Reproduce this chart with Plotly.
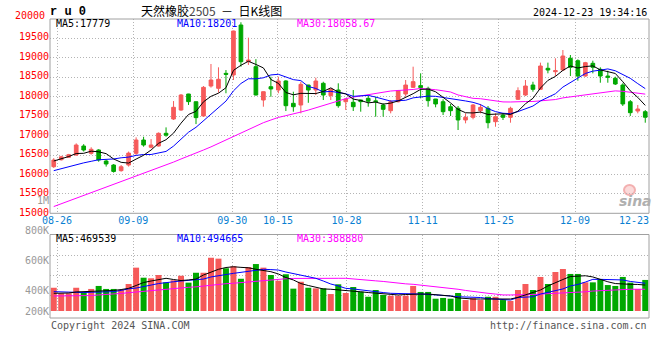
import plotly.graph_objects as go

# ---------------- data ----------------
IDX = list(range(80))
OPEN = [16162,16340,16405,16462,16692,16505,16590,16308,16205,16060,
        16205,16505,16846,16660,16692,17018,17385,17615,18026,17828,
        17462,18231,18172,18555,18513,19795,18855,18726,17872,18213,
        18128,18360,17787,17744,18256,18128,18300,17985,18128,17828,
        17813,17872,17915,17850,17744,17598,17828,18026,18197,18240,
        18170,17897,17828,17700,17659,17360,17428,17598,17659,17316,
        17487,17428,17890,18000,18256,18146,18685,18598,18641,18941,
        18880,18487,18813,18659,18487,18428,18256,17828,17590,17572]
HIGH = [16380,16440,16490,16760,16740,16660,16610,16350,16230,16205,
        16550,16915,16930,16870,17040,17170,17845,18025,18030,17830,
        18230,18795,18710,18640,19650,19865,19470,18920,18090,18470,
        18470,18380,18085,18340,18260,18444,18340,18160,18300,17910,
        18128,17880,17985,17957,17787,17872,18130,18385,18726,18556,
        18213,17900,17890,17770,17718,17530,17770,17770,17718,17530,
        17530,17700,18197,18385,18340,18830,18830,18941,19154,19026,
        18915,18850,18880,18710,18623,18470,18300,17872,17744,17615]
LOW = [16130,16320,16390,16440,16550,16470,16290,16165,16010,16035,
       16165,16462,16675,16635,16680,16930,17360,17595,17745,17255,
       17445,18190,18060,18045,18385,18725,18770,17990,17700,17955,
       18045,17590,17572,17530,17800,18000,17872,17872,17674,17615,
       17590,17572,17700,17444,17444,17530,17810,17957,18180,17915,
       17700,17685,17487,17462,17103,17274,17377,17530,17146,17187,
       17359,17290,17872,17974,18085,18128,18556,18487,18623,18487,
       18367,18470,18556,18315,18315,18256,17718,17462,17530,17290]
CLOSE = [16333,16415,16470,16718,16590,16608,16333,16231,16040,16160,
         16510,16846,16718,16718,17018,16970,17685,18000,17830,17420,
         18197,18385,18403,18530,19641,18854,18897,18000,18085,18155,
         18360,17726,17700,18274,18128,18359,18000,18154,17726,17897,
         17700,17830,17840,17830,17633,17828,18111,18256,18342,18190,
         17855,17770,17572,17598,17360,17428,17744,17685,17290,17444,
         17428,17659,18111,18231,18146,18744,18641,18623,19000,18710,
         18487,18829,18710,18487,18454,18282,17770,17547,17641,17430]
MA5 = [16308,16359,16423,16500,16505,16560,16544,16496,16360,16274,
       16255,16357,16455,16590,16762,16854,17022,17278,17501,17581,
       17826,17966,18047,18187,18631,18763,18865,18784,18695,18398,
       18299,18065,18005,18043,18038,18037,18092,18183,18073,18027,
       17895,17861,17799,17819,17767,17792,17848,17932,18034,18145,
       18151,18083,17946,17797,17631,17546,17540,17563,17501,17518,
       17518,17501,17586,17775,17915,18178,18375,18477,18631,18744,
       18692,18730,18747,18645,18593,18552,18341,18108,17939,17734]
MA10 = [16060,16110,16160,16220,16260,16300,16340,16350,16360,16390,
        16408,16451,16475,16475,16518,16554,16690,16867,17046,17172,
        17340,17494,17663,17844,18106,18295,18416,18416,18441,18515,
        18531,18465,18395,18369,18218,18168,18079,18094,18058,18032,
        17966,17977,17991,17946,17897,17844,17855,17865,17927,17956,
        17972,17966,17939,17916,17888,17848,17812,17754,17649,17575,
        17532,17521,17575,17638,17717,17848,17938,18032,18203,18329,
        18435,18552,18612,18638,18669,18622,18535,18428,18292,18164]
MA30 = [15140,15210,15280,15350,15420,15490,15560,15630,15700,15780,
        15850,15920,15990,16060,16140,16210,16280,16360,16430,16510,
        16590,16670,16760,16850,16930,17020,17110,17200,17290,17359,
        17426,17470,17511,17563,17614,17672,17728,17792,17848,17906,
        17946,17979,18016,18053,18074,18102,18116,18125,18142,18168,
        18156,18136,18108,18077,18001,17953,17915,17905,17878,17854,
        17823,17821,17835,17833,17834,17847,17868,17884,17926,17953,
        17980,18013,18042,18064,18091,18106,18095,18071,18048,18023]
VOL = [418,381,381,418,388,410,430,410,410,403,
       443,552,485,481,503,454,468,498,452,518,
       518,618,612,548,561,478,556,576,552,503,
       465,508,412,458,418,414,414,376,441,383,
       423,392,358,403,370,365,365,365,430,390,
       390,345,350,345,383,336,348,336,358,358,
       336,330,403,443,403,490,443,523,543,510,
       510,454,454,476,436,430,490,452,410,470]
VOL_MA5 = [381,381,383,390,392,392,392,396,400,406,
           414,433,453,463,473,481,473,466,470,476,
           503,523,541,553,558,554,551,541,533,525,
           510,486,470,446,433,420,410,408,405,402,
           396,391,386,381,376,371,370,373,376,376,
           376,373,370,363,350,344,343,343,343,343,
           343,343,354,370,383,403,430,453,473,493,
           498,498,490,473,458,446,441,441,440,436]
VOL_MA10 = [392,390,388,385,386,388,390,391,392,400,
            411,416,428,436,446,454,458,463,466,470,
            476,490,500,506,514,521,530,535,541,539,
            536,523,513,504,493,481,463,443,430,414,
            410,403,396,392,386,381,381,381,380,376,
            374,372,370,363,358,358,358,353,346,343,
            340,336,353,356,358,376,386,400,410,430,
            440,456,474,474,474,472,470,460,453,448]
VOL_MA30 = [363,363,363,364,365,366,370,372,374,380,
            385,390,396,401,406,410,414,418,421,424,
            430,438,442,445,448,453,458,463,468,471,
            475,478,480,481,481,481,481,481,481,481,
            478,474,470,464,460,453,448,444,441,436,
            433,426,421,413,408,400,392,386,381,376,
            370,370,370,370,373,376,378,380,381,384,
            388,391,396,399,401,403,406,408,408,408]
VOL_UNIT = 1000  # volumes above are in thousands of lots

DATE_IDX = [1, 11, 24, 30, 39, 49, 59, 69, 79]
DATE_LABELS = ["08-26", "09-09", "09-30", "10-15", "10-28", "11-11", "11-25", "12-09", "12-23"]
PRICE_TICKS = [15000, 15500, 16000, 16500, 17000, 17500, 18000, 18500, 19000, 19500]
PRICE_TOP_LABEL = 20000
VOL_TICKS = [200000, 400000, 600000, 800000, 1000000]
VOL_TICK_TEXT = ["200K", "400K", "600K", "800K", "1M"]

TITLE_NAME = "天然橡胶"
TITLE_CODE = "2505"
TITLE_KIND = "日K线图"
SYMBOL = "r u 0"
STAMP = "2024-12-23 19:34:16"
HDR_PRICE = ["MA5:17779", "MA10:18201", "MA30:18058.67"]
HDR_VOL = ["MA5:469539", "MA10:494665", "MA30:388880"]
COPY_L = "Copyright 2024 SINA.COM"
COPY_R = "http://finance.sina.com.cn"

# ---------------- geometry / style ----------------
W, H = 660, 360
L, R, TOP, BOT = 50, 649, 19, 318
def fx(px):
    return (px - L) / (R - L)
def fy(py):
    return (BOT - py) / (BOT - TOP)

RED = "#f65a5a"
GREEN = "#00a800"
GRID = "#b4b4b4"
FRAME = "#a0a0a0"
MONO = "DejaVu Sans Mono"

P_LO, P_HI = 14967, 19949
V_LO, V_HI = 263000, 773000
v_per_px = (V_HI - V_LO) / (311 - 234.5)
V3_LO = V_LO - (318 - 311) * v_per_px
V3_HI = V_LO + (311 - 195) * v_per_px

# Sina draws the date grid on a slightly wider step than the bars
grid_pos = [1.01743 * i - 0.5796 for i in DATE_IDX]
label_pos = [min(p, 77.5) for p in grid_pos]
price_grid = [P_LO + k * (P_HI - P_LO) / 10 for k in range(1, 10)]

vols = [v * VOL_UNIT for v in VOL]
vcolors = [RED if c >= o else GREEN for o, c in zip(OPEN, CLOSE)]

fig = go.Figure()
fig.add_trace(go.Candlestick(
    x=IDX, open=OPEN, high=HIGH, low=LOW, close=CLOSE,
    increasing=dict(line=dict(color=RED, width=1), fillcolor=RED),
    decreasing=dict(line=dict(color=GREEN, width=1), fillcolor=GREEN),
    whiskerwidth=0, showlegend=False, xaxis="x", yaxis="y"))
for ser, col in [(MA30, "#ff00ff"), (MA10, "#0000ff"), (MA5, "#000000")]:
    fig.add_trace(go.Scatter(x=IDX, y=ser, mode="lines", line=dict(color=col, width=1),
                             showlegend=False, xaxis="x", yaxis="y"))

fig.add_trace(go.Bar(x=IDX, y=vols, marker=dict(color=vcolors, line=dict(width=0)),
                     showlegend=False, xaxis="x2", yaxis="y2"))
# volume averages live on the labelled volume scale (same scale as the bars)
for ser, col in [(VOL_MA30, "#ff00ff"), (VOL_MA10, "#0000ff"), (VOL_MA5, "#000000")]:
    fig.add_trace(go.Scatter(x=IDX, y=[v * VOL_UNIT for v in ser], mode="lines",
                             line=dict(color=col, width=1), showlegend=False,
                             xaxis="x3", yaxis="y3", cliponaxis=True))

minor_x = dict(tickmode="array", tickvals=grid_pos[:-1], showgrid=True, gridcolor=GRID,
               griddash="1px,2px", gridwidth=1, ticks="")
fig.update_layout(
    width=W, height=H, paper_bgcolor="white", plot_bgcolor="rgba(0,0,0,0)",
    margin=dict(l=L, r=W - R, t=TOP, b=H - BOT),
    showlegend=False, bargap=0.2, boxgap=0.3,
    xaxis=dict(domain=[0, 1], range=[-0.5, 79.5], anchor="y", rangeslider=dict(visible=False),
               tickmode="array", tickvals=label_pos, ticktext=DATE_LABELS, showgrid=False,
               ticks="", zeroline=False, showline=False,
               tickfont=dict(family=MONO, size=10, color="#0a7fd2"), minor=minor_x),
    yaxis=dict(domain=[fy(213.3), 1], range=[P_LO, P_HI], anchor="x",
               tickmode="array", tickvals=PRICE_TICKS, ticktext=[str(t) for t in PRICE_TICKS],
               showgrid=False, zeroline=False, showline=False, ticks="",
               tickfont=dict(family=MONO, size=10, color="#ff0000"),
               minor=dict(tickmode="array", tickvals=price_grid, showgrid=True, gridcolor=GRID,
                          griddash="1px,2px", gridwidth=1, ticks="")),
    xaxis2=dict(domain=[0, 1], range=[-0.5, 79.5], anchor="y2", showticklabels=False,
                showgrid=False, ticks="", zeroline=False, showline=False, minor=minor_x),
    yaxis2=dict(domain=[fy(311), fy(234.5)], range=[V_LO, V_HI], anchor="x2",
                showticklabels=False, showgrid=False, zeroline=False, ticks="",
                minor=dict(tickmode="array",
                           tickvals=[V_LO + (311 - p) * v_per_px for p in (295.7, 275.7, 255.7)],
                           showgrid=True, gridcolor=GRID, griddash="1px,2px", gridwidth=1, ticks="")),
    xaxis3=dict(domain=[0, 1], range=[-0.5, 79.5], anchor="y3", visible=False),
    yaxis3=dict(domain=[0, fy(195)], range=[V3_LO, V3_HI], anchor="x3",
                tickmode="array", tickvals=[max(v, V_LO) for v in VOL_TICKS], ticktext=VOL_TICK_TEXT,
                showgrid=False, zeroline=False, showline=False, ticks="",
                tickfont=dict(family=MONO, size=10, color="#999999")),
)

shapes = [
    dict(type="rect", xref="paper", yref="paper", x0=0, x1=1, y0=fy(213.3), y1=1,
         line=dict(color=FRAME, width=1), layer="above"),
    dict(type="rect", xref="paper", yref="paper", x0=0, x1=1, y0=0, y1=fy(234.5),
         line=dict(color=FRAME, width=1), layer="above"),
    # pink "eye" of the sina watermark
    dict(type="circle", xref="paper", yref="paper", x0=fx(624), x1=fx(635), y0=fy(195), y1=fy(185),
         line=dict(color="#f3b0b0", width=2), fillcolor="#fbdada", layer="below"),
]
fig.update_layout(shapes=shapes)

def ann(text, x, y, xa="left", color="#000", size=10, family=MONO, **kw):
    fig.add_annotation(text=text, x=fx(x), y=fy(y), xref="paper", yref="paper",
                       xanchor=xa, yanchor="middle", showarrow=False,
                       font=dict(family=family, size=size, color=color), **kw)

ann("<b>" + SYMBOL + "</b>", 48, 12, family="Liberation Mono", size=12)
ann(TITLE_NAME + "<span style='color:#444'>" + TITLE_CODE + "</span>  －  " + TITLE_KIND,
    139, 10, family="Noto Sans CJK SC", size=12)
ann(STAMP, 649, 12, xa="right")
ann(str(PRICE_TOP_LABEL), 47, 15.5, xa="right", color="#ff0000")
ann(HDR_PRICE[0], 54, 24)
ann(HDR_PRICE[1], 175, 24, color="#0000ff")
ann(HDR_PRICE[2], 295, 24, color="#ff00ff")
ann(HDR_VOL[0], 54, 238.5)
ann(HDR_VOL[1], 175, 238.5, color="#0000ff")
ann(HDR_VOL[2], 295, 238.5, color="#ff00ff")
ann(COPY_L, 49, 325, color="#555555")
ann(COPY_R, 649, 325, xa="right", color="#555555")
ann("<b><i>sina</i></b>", 635, 201, xa="center", color="#b0b0b0", size=14, family="DejaVu Sans")

fig.write_html("out.html", config={"displayModeBar": False, "staticPlot": True},
               post_script="document.body.style.margin='0px';")
